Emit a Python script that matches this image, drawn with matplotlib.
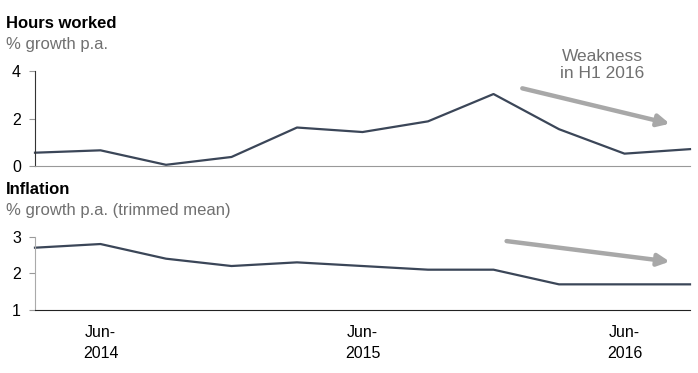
import matplotlib.pyplot as plt

plt.rcParams["font.family"] = ["Liberation Sans", "DejaVu Sans"]

# quarterly data, Mar-2014 .. Sep-2016
quarters = ["Mar-2014", "Jun-2014", "Sep-2014", "Dec-2014", "Mar-2015", "Jun-2015",
            "Sep-2015", "Dec-2015", "Mar-2016", "Jun-2016", "Sep-2016"]
hours_worked = [0.56, 0.66, 0.05, 0.38, 1.62, 1.43, 1.88, 3.03, 1.55, 0.52, 0.71]
inflation = [2.7, 2.8, 2.4, 2.2, 2.3, 2.2, 2.1, 2.1, 1.7, 1.7, 1.7]
tick_quarters = ["Jun-2014", "Jun-2015", "Jun-2016"]

LINE = "#3b4658"
GREY_TXT = "#707070"
ARROW = "#a8a8a8"

W, H = 698, 373
fig = plt.figure(figsize=(W / 100, H / 100), dpi=100)


def px_axes(left, right, top, bottom):
    return fig.add_axes([left / W, 1 - bottom / H, (right - left) / W, (bottom - top) / H])


x = list(range(len(quarters)))
tick_pos = [quarters.index(q) for q in tick_quarters]
tick_lab = [q.replace("-", "-\n") for q in tick_quarters]

# --- top: hours worked ---
ax1 = px_axes(35, 690, 71, 166)
ax1.plot(x, hours_worked, color=LINE, lw=1.6, clip_on=False)
ax1.set_xlim(0, 10)
ax1.set_ylim(0, 4)
ax1.set_yticks([0, 2, 4])
ax1.set_xticks([])
for s in ["top", "right"]:
    ax1.spines[s].set_visible(False)
ax1.spines["left"].set_color("#333333")
ax1.spines["bottom"].set_color("#999999")
ax1.tick_params(axis="y", length=4, width=0.8, color="#999999", labelsize=11.5, pad=6)
ax1.annotate("", xy=(9.69, 1.78), xytext=(7.44, 3.27), annotation_clip=False,
             arrowprops=dict(arrowstyle="-|>,head_length=0.7,head_width=0.35",
                             color=ARROW, lw=3.2, shrinkA=0, shrinkB=0))
ax1.text(8.66, 4.25, "Weakness\nin H1 2016", ha="center", va="center", fontsize=12.5,
         color=GREY_TXT, linespacing=1.15)

# --- bottom: inflation ---
ax2 = px_axes(35, 690, 236.7, 310)
ax2.plot(x, inflation, color=LINE, lw=1.6, clip_on=False)
ax2.set_xlim(0, 10)
ax2.set_ylim(1, 3)
ax2.set_yticks([1, 2, 3])
ax2.set_xticks(tick_pos)
ax2.set_xticklabels(tick_lab, fontsize=11.5, linespacing=1.45)
for s in ["top", "right"]:
    ax2.spines[s].set_visible(False)
ax2.spines["left"].set_color("#aaaaaa")
ax2.spines["bottom"].set_color("#222222")
ax2.tick_params(axis="y", length=4, width=0.8, color="#999999", labelsize=11.5, pad=6)
ax2.tick_params(axis="x", length=0, pad=11)
ax2.annotate("", xy=(9.69, 2.32), xytext=(7.2, 2.88), annotation_clip=False,
             arrowprops=dict(arrowstyle="-|>,head_length=0.7,head_width=0.35",
                             color=ARROW, lw=3.2, shrinkA=0, shrinkB=0))

# titles
fig.text(6 / W, 1 - 23 / H, "Hours worked", fontsize=12, fontweight="bold", va="center")
fig.text(6 / W, 1 - 44 / H, "% growth p.a.", fontsize=12, color=GREY_TXT, va="center")
fig.text(6 / W, 1 - 189 / H, "Inflation", fontsize=12, fontweight="bold", va="center")
fig.text(6 / W, 1 - 210 / H, "% growth p.a. (trimmed mean)", fontsize=12, color=GREY_TXT,
         va="center")

fig.savefig("out.png", dpi=100)
